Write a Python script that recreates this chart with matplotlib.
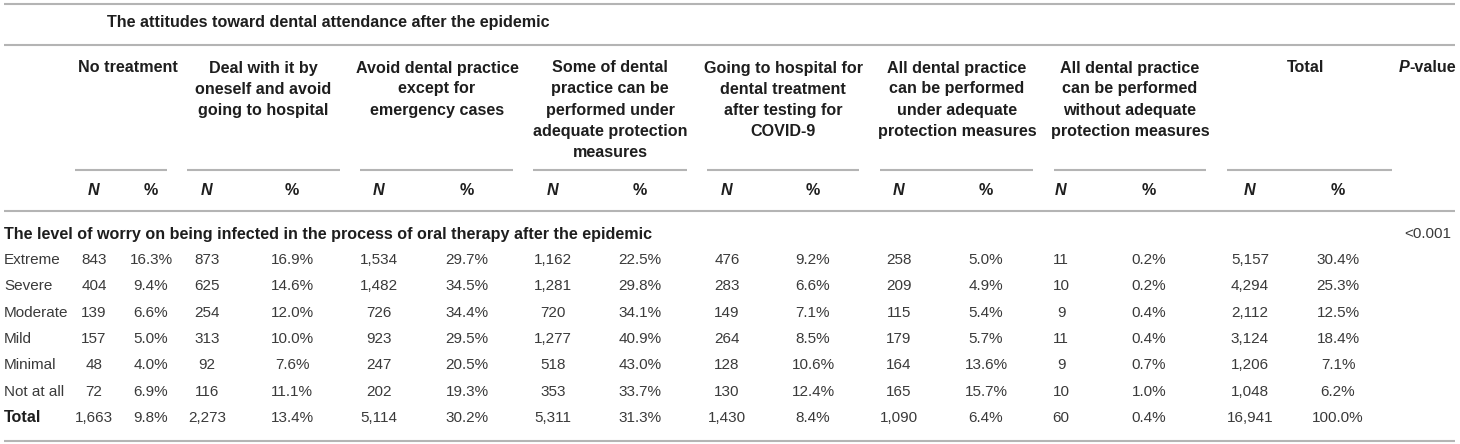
import matplotlib
matplotlib.use("Agg")
import matplotlib.pyplot as plt

worry_levels = ["Extreme", "Severe", "Moderate", "Mild", "Minimal", "Not at all", "Total"]

attitude_headers = [
    ["No treatment"],
    ["Deal with it by", "oneself and avoid", "going to hospital"],
    ["Avoid dental practice", "except for", "emergency cases"],
    ["Some of dental", "practice can be", "performed under", "adequate protection", "measures"],
    ["Going to hospital for", "dental treatment", "after testing for", "COVID-9"],
    ["All dental practice", "can be performed", "under adequate", "protection measures"],
    ["All dental practice", "can be performed", "without adequate", "protection measures"],
    ["Total"],
]

no_treat_n = [843, 404, 139, 157, 48, 72, 1663]
no_treat_pct = [16.3, 9.4, 6.6, 5.0, 4.0, 6.9, 9.8]
self_n = [873, 625, 254, 313, 92, 116, 2273]
self_pct = [16.9, 14.6, 12.0, 10.0, 7.6, 11.1, 13.4]
avoid_n = [1534, 1482, 726, 923, 247, 202, 5114]
avoid_pct = [29.7, 34.5, 34.4, 29.5, 20.5, 19.3, 30.2]
some_n = [1162, 1281, 720, 1277, 518, 353, 5311]
some_pct = [22.5, 29.8, 34.1, 40.9, 43.0, 33.7, 31.3]
test_n = [476, 283, 149, 264, 128, 130, 1430]
test_pct = [9.2, 6.6, 7.1, 8.5, 10.6, 12.4, 8.4]
all_prot_n = [258, 209, 115, 179, 164, 165, 1090]
all_prot_pct = [5.0, 4.9, 5.4, 5.7, 13.6, 15.7, 6.4]
no_prot_n = [11, 10, 9, 11, 9, 10, 60]
no_prot_pct = [0.2, 0.2, 0.4, 0.4, 0.7, 1.0, 0.4]
total_n = [5157, 4294, 2112, 3124, 1206, 1048, 16941]
total_pct = [30.4, 25.3, 12.5, 18.4, 7.1, 6.2, 100.0]

p_value = "<0.001"

n_cols = [no_treat_n, self_n, avoid_n, some_n, test_n, all_prot_n, no_prot_n, total_n]
pct_cols = [no_treat_pct, self_pct, avoid_pct, some_pct, test_pct, all_prot_pct, no_prot_pct, total_pct]

# layout (pixel positions on a 1460x444 canvas)
W, H = 1460, 444
n_x = [94, 207, 379, 553, 727, 899, 1061, 1250]
pct_x = [151, 292, 467, 640, 813, 986, 1149, 1338]
group_span = [(75, 167), (187, 340), (360, 513), (533, 687), (707, 859),
              (880, 1033), (1054, 1206), (1227, 1392)]
group_cx = [128, 263, 437, 610, 783, 957, 1130, 1306]
row_y0, row_dy = 260, 26.3

plt.rcParams['font.family'] = ['Liberation Sans', 'DejaVu Sans']
fs_b = 11.6   # bold header text
fs = 11.0     # body text
dark = '#1e1e1e'
body = '#3a3a3a'
rule = '#b4b4b4'

fig = plt.figure(figsize=(W / 100, H / 100), dpi=100)
ax = fig.add_axes([0, 0, 1, 1])
ax.set_xlim(0, W)
ax.set_ylim(H, 0)
ax.axis('off')

# long rules
for y in [4, 45, 211, 441]:
    ax.plot([4, 1455], [y, y], color=rule, lw=1.5, solid_capstyle='butt')
# short rules under group headers
for x0, x1 in group_span:
    ax.plot([x0, x1], [170, 170], color=rule, lw=1.5, solid_capstyle='butt')

ax.text(107, 23, "The attitudes toward dental attendance after the epidemic",
        fontsize=fs_b, fontweight='bold', color=dark, ha='left', va='center')

for cx, lines in zip(group_cx, attitude_headers):
    for i, line in enumerate(lines):
        ax.text(cx, 68 + 21 * i, line, fontsize=fs_b, fontweight='bold',
                color=dark, ha='center', va='center')

ax.text(1409, 68, "P", fontsize=fs_b, fontweight='bold', fontstyle='italic',
        color=dark, ha='right', va='center')
ax.text(1409, 68, "-value", fontsize=fs_b, fontweight='bold',
        color=dark, ha='left', va='center')

for xn, xp in zip(n_x, pct_x):
    ax.text(xn, 190, "N", fontsize=fs_b, fontweight='bold', fontstyle='italic',
            color=dark, ha='center', va='center')
    ax.text(xp, 190, "%", fontsize=fs_b, fontweight='bold',
            color=dark, ha='center', va='center')

ax.text(4, 234, "The level of worry on being infected in the process of oral therapy after the epidemic",
        fontsize=fs_b, fontweight='bold', color=dark, ha='left', va='center')
ax.text(1428, 234, p_value, fontsize=fs, color=body, ha='center', va='center')

for r, label in enumerate(worry_levels):
    y = row_y0 + r * row_dy
    is_total = label == "Total"
    ax.text(4, y, label, fontsize=fs_b if is_total else fs,
            color=dark if is_total else body,
            fontweight='bold' if is_total else 'normal', ha='left', va='center')
    for xn, xp, ns, ps in zip(n_x, pct_x, n_cols, pct_cols):
        ax.text(xn, y, f"{ns[r]:,}", fontsize=fs, color=body, ha='center', va='center')
        ax.text(xp, y, f"{ps[r]:.1f}%", fontsize=fs, color=body, ha='center', va='center')

fig.savefig("out.png", dpi=100)
